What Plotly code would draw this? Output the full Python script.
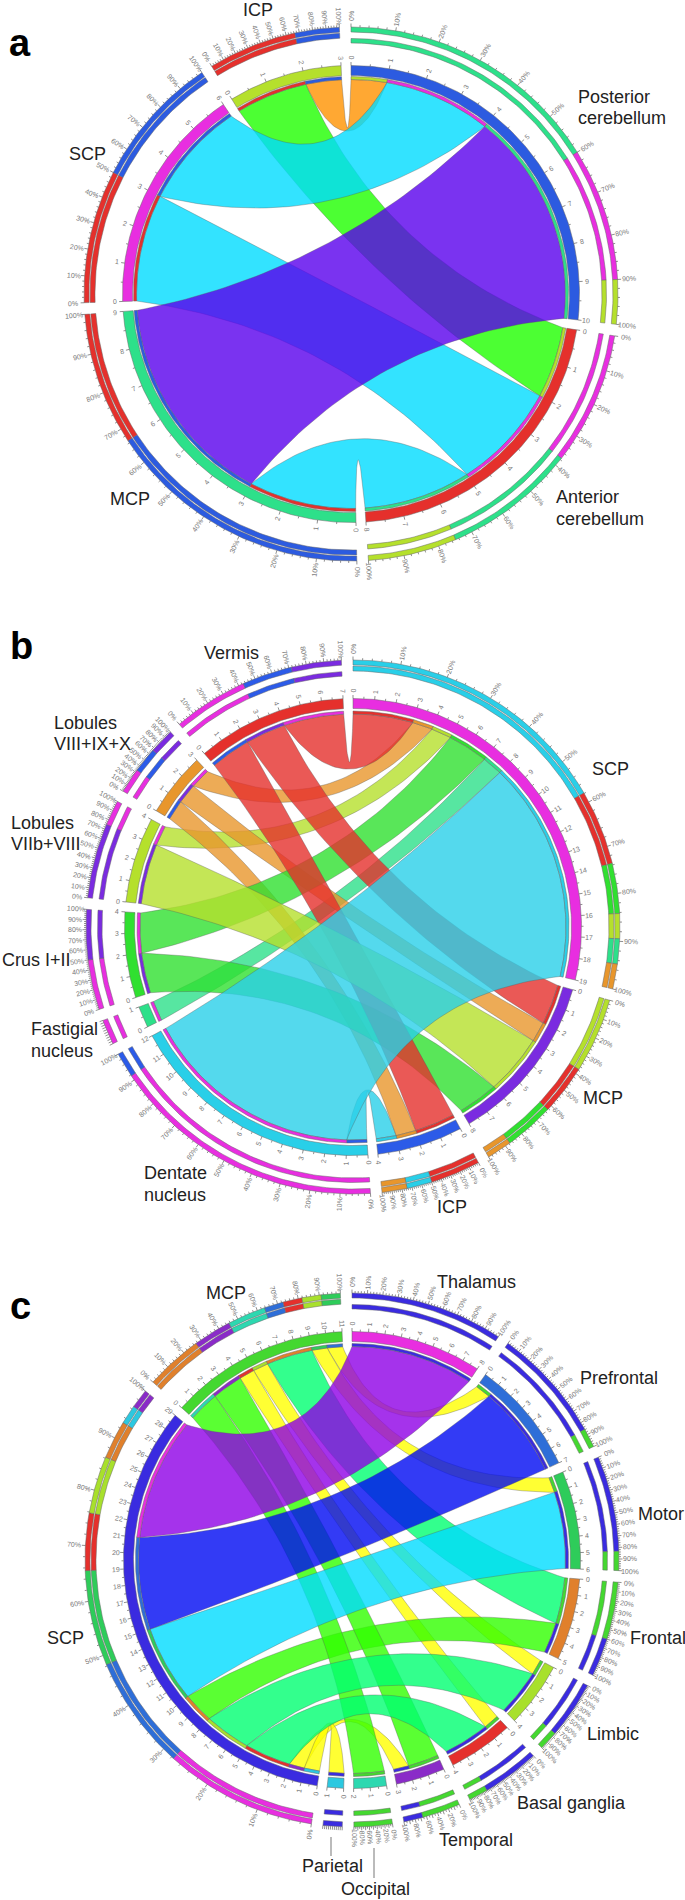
import numpy as np
import plotly.graph_objects as go

FONT = "Liberation Sans, Arial, sans-serif"

# ---------- panel a ----------
a_sizes = [10, 8, 9, 6, 3]
a_colors = ["#2c5be0", "#e5302c", "#2de08a", "#e82ee0", "#b5e02c"]
a_matrix = [
    [0, 0, 6, 3, 1],
    [0, 0, 3, 3, 2],
    [6, 3, 0, 0, 0],
    [3, 3, 0, 0, 0],
    [1, 2, 0, 0, 0],
]
a_order = [[4, 3, 2], [4, 3, 2], [1, 0], [1, 0], [1, 0]]
a_ring = [[2, 3, 4], [3, 2, 4], [0, 1], [1, 0], [1, 0]]
a_close = [False, False, True, True, True]
a_value_colors = {1: "#ff9200", 2: "#1fff00", 3: "#00dcff", 6: "#5900ec"}

# ---------- panel b ----------
b_sizes = [19, 8, 4, 12, 1, 4, 4, 3, 7]
b_colors = ["#e82ee0", "#7a2be0", "#2c5be8", "#29cfe8", "#2de08a",
            "#30e030", "#b5e02c", "#e8962c", "#e5302c"]
b_matrix = [
    [0, 0, 0, 11, 1, 2, 1, 1, 3],
    [0, 0, 0, 0, 0, 2, 3, 1, 2],
    [0, 0, 0, 1, 0, 0, 0, 1, 2],
    [11, 0, 1, 0, 0, 0, 0, 0, 0],
    [1, 0, 0, 0, 0, 0, 0, 0, 0],
    [2, 2, 0, 0, 0, 0, 0, 0, 0],
    [1, 3, 0, 0, 0, 0, 0, 0, 0],
    [1, 1, 1, 0, 0, 0, 0, 0, 0],
    [3, 2, 2, 0, 0, 0, 0, 0, 0],
]
b_order = [[8, 7, 6, 5, 4, 3], [8, 7, 6, 5], [8, 7, 3], [2, 0], [0],
           [1, 0], [1, 0], [2, 1, 0], [2, 1, 0]]
b_ring = [[3, 8, 5, 6, 4, 7], [6, 8, 5, 7], [8, 3, 7], [0, 2], [0],
          [0, 1], [1, 0], [0, 2, 1], [0, 2, 1]]
b_close = [True, True, True, False, False, False, False, False, False]

# ---------- panel c ----------
c_sizes = [8, 7, 6, 5, 4, 4, 3, 2, 1, 29, 11]
c_colors = ["#e82ee0", "#2e6ed8", "#2ecc5a", "#e0802c", "#a8e02c", "#e5302c",
            "#8a2bc8", "#2dd8b0", "#2cc8e0", "#3a2be0", "#44d830"]
c_scp = [8, 6, 5, 2, 3, 3, 1, 0, 1]
c_mcp = [0, 1, 1, 3, 1, 1, 2, 2, 0]
c_order = [[9], [10, 9], [10, 9], [10, 9], [10, 9], [10, 9], [10, 9], [10], [9],
           [8, 6, 5, 4, 3, 2, 1, 0], [7, 6, 5, 4, 3, 2, 1]]
c_ring = [[9], [9, 10], [9, 10], [10, 9], [9, 10], [9, 10], [10, 9], [10], [9],
          [0, 1, 2, 5, 4, 3, 8, 6], [3, 6, 7, 1, 5, 4, 2]]
c_close = [False] * 9 + [True, True]
c_value_colors = {1: "#ffff00", 2: "#31ff00", 3: "#00ff70", 5: "#00dcff",
                  6: "#000af3", 8: "#8e00e6"}

c_matrix = [[0] * 11 for _ in range(11)]
for k in range(9):
    c_matrix[k][9] = c_matrix[9][k] = c_scp[k]
    c_matrix[k][10] = c_matrix[10][k] = c_mcp[k]

# ---------- text ----------
panel_letters = ["a", "b", "c"]
letter_xy = [(20, 43), (21, 646), (20, 1306)]
a_labels = [("ICP", 258, 10, "center"), ("Posterior", 577, 97, "left"), ("cerebellum", 577, 118, "left"),
            ("SCP", 87, 154, "center"), ("MCP", 130, 499, "center"),
            ("Anterior", 555, 497, "left"), ("cerebellum", 555, 519, "left")]
b_labels = [("Vermis", 231, 653, "center"), ("SCP", 610, 769, "center"), ("MCP", 603, 1098, "center"),
            ("ICP", 452, 1207, "center"), ("Dentate", 143, 1173, "left"), ("nucleus", 143, 1195, "left"),
            ("Fastigial", 30, 1029, "left"), ("nucleus", 30, 1051, "left"), ("Crus I+II", 1, 960, "left"),
            ("Lobules", 10, 823, "left"), ("VIIb+VIII", 10, 844, "left"),
            ("Lobules", 53, 723, "left"), ("VIII+IX+X", 53, 744, "left")]
c_labels = [("Thalamus", 476, 1282, "center"), ("Prefrontal", 579, 1378, "left"), ("Motor", 637, 1514, "left"),
            ("Frontal", 629, 1638, "left"), ("Limbic", 586, 1734, "left"), ("Basal ganglia", 516, 1803, "left"),
            ("Temporal", 438, 1840, "left"), ("Parietal", 332, 1866, "center"), ("Occipital", 375, 1889, "center"),
            ("MCP", 226, 1293, "center"), ("SCP", 65, 1638, "center")]
leaders = [(331, 1837, 331, 1856), (374, 1848, 374, 1878)]

# ---------- geometry ----------
GAP = 2.5
R_OUT, R_OUT_W = 267.0, 5.0
R_SEG, R_SEG_W = 228.5, 10.0


def xy(cx, cy, r, deg):
    t = np.radians(deg)
    return cx + r * np.sin(t), cy - r * np.cos(t)


def arc(cx, cy, r, a0, a1):
    n = max(2, int(abs(a1 - a0) / 0.8) + 2)
    return xy(cx, cy, r, np.linspace(a0, a1, n))


def band(fig, cx, cy, r0, r1, a0, a1, color):
    xo, yo = arc(cx, cy, r1, a0, a1)
    xi, yi = arc(cx, cy, r0, a1, a0)
    fig.add_trace(go.Scatter(x=np.r_[xo, xi, xo[0]], y=np.r_[yo, yi, yo[0]], mode="lines", fill="toself",
                             fillcolor=color, line=dict(color="#666666", width=0.5), hoverinfo="skip"))


def curve(cx, cy, r, a, b):
    d = abs(a - b) % 360
    d = min(d, 360 - d)
    c = r * np.interp(d, [0, 35, 60, 102, 133, 180], [0.55, 0.53, 0.49, 0.26, 0.12, 0.0])
    ax, ay = xy(cx, cy, r, a)
    bx, by = xy(cx, cy, r, b)
    va = (b - a) % 360
    mid = a + (va / 2 if va <= 180 else (va - 360) / 2)
    mx, my = xy(cx, cy, c, mid)
    t = np.linspace(0, 1, 50)
    return ((1 - t) ** 2 * ax + 2 * t * (1 - t) * mx + t ** 2 * bx,
            (1 - t) ** 2 * ay + 2 * t * (1 - t) * my + t ** 2 * by)


def rgba(h, alpha):
    return f"rgba({int(h[1:3],16)},{int(h[3:5],16)},{int(h[5:7],16)},{alpha})"


def label(annots, x, y, text, size=18, anchor="center", color="#222222", angle=0, bold=False):
    annots.append(dict(x=x, y=y, xref="x", yref="y", text=f"<b>{text}</b>" if bold else text, showarrow=False,
                       xanchor=anchor, yanchor="middle", textangle=angle, borderpad=0,
                       font=dict(family=FONT, size=size, color=color)))


def radial(annots, cx, cy, r, deg, text):
    x, y = xy(cx, cy, r, deg)
    ang = deg - 90 if deg < 180 else deg + 90 - 360
    label(annots, float(x), float(y), text, size=7, color="#777777", angle=ang)


def panel(fig, annots, cx, cy, sizes, colors, matrix, order, ring, close, link_color, r_thin, r_thin_w):
    n = len(sizes)
    unit = (360 - n * GAP) / sum(sizes)
    starts = []
    ang = 0.0
    for s in sizes:
        starts.append(ang)
        ang += s * unit + GAP
    pos = {}
    for i in range(n):
        u = 0
        for j in order[i]:
            pos[(i, j)] = (u, u + matrix[i][j])
            u += matrix[i][j]
    pairs = sorted([(i, j) for i in range(n) for j in range(i + 1, n) if matrix[i][j] > 0],
                   key=lambda p: matrix[p[0]][p[1]])
    r_c = r_thin
    for i, j in pairs:
        a0, a1 = [starts[i] + unit * v for v in pos[(i, j)]]
        b0, b1 = [starts[j] + unit * v for v in pos[(j, i)]]
        x1, y1 = arc(cx, cy, r_c, a0, a1)
        x2, y2 = curve(cx, cy, r_c, a1, b0)
        x3, y3 = arc(cx, cy, r_c, b0, b1)
        x4, y4 = curve(cx, cy, r_c, b1, a0)
        fig.add_trace(go.Scatter(x=np.r_[x1, x2, x3, x4], y=np.r_[y1, y2, y3, y4], mode="lines", fill="toself",
                                 fillcolor=rgba(link_color(i, j), 0.8),
                                 line=dict(color="rgba(90,90,90,0.7)", width=0.5), hoverinfo="skip"))
    tx, ty = [], []
    for i in range(n):
        s0 = starts[i]
        s1 = s0 + sizes[i] * unit
        span = s1 - s0
        band(fig, cx, cy, R_SEG - R_SEG_W, R_SEG, s0, s1, colors[i])
        for j in order[i]:
            p0, p1 = pos[(i, j)]
            band(fig, cx, cy, r_thin, r_thin + r_thin_w, s0 + unit * p0, s0 + unit * p1, colors[j])
        u = 0
        r2 = (R_OUT - 11.0, R_OUT - 6.0) if close[i] else (R_OUT - 16.0, R_OUT - 11.5)
        for j in ring[i]:
            v = matrix[i][j]
            a0, a1 = s0 + unit * u, s0 + unit * (u + v)
            band(fig, cx, cy, R_OUT - R_OUT_W, R_OUT, a0, a1, colors[j])
            band(fig, cx, cy, r2[0], r2[1], a0, a1, colors[j])
            u += v
        for k in range(2 * sizes[i] + 1):
            d = s0 + unit * k / 2
            L = 3.5 if k % 2 == 0 else 2.0
            x, y = xy(cx, cy, np.array([R_SEG, R_SEG + L]), d)
            tx += [x[0], x[1], None]
            ty += [y[0], y[1], None]
            if k % 2 == 0:
                radial(annots, cx, cy, R_SEG + 8, d, str(k // 2))
        tick_step = 10 if span < 6 else (5 if span < 14 else 2)
        label_step = None if span < 6 else (20 if span < 14 else 10)
        for pct in range(0, 101, tick_step):
            d = s0 + span * pct / 100
            L = 3.5 if pct % 10 == 0 else 2.0
            x, y = xy(cx, cy, np.array([R_OUT, R_OUT + L]), d)
            tx += [x[0], x[1], None]
            ty += [y[0], y[1], None]
            if label_step and pct % label_step == 0:
                radial(annots, cx, cy, R_OUT + 11, d, f"{pct}%")
    fig.add_trace(go.Scatter(x=tx, y=ty, mode="lines", line=dict(color="#444444", width=0.6), hoverinfo="skip"))


fig = go.Figure()
annots = []
panel(fig, annots, 351, 294, a_sizes, a_colors, a_matrix, a_order, a_ring, a_close,
      lambda i, j: a_value_colors[a_matrix[i][j]], 214.5, 3.0)
b_source = [3, 4, 5, 6, 7, 8]
panel(fig, annots, 353, 927, b_sizes, b_colors, b_matrix, b_order, b_ring, b_close,
      lambda i, j: b_colors[j if j in b_source else i], 213.0, 3.0)
panel(fig, annots, 352, 1560, c_sizes, c_colors, c_matrix, c_order, c_ring, c_close,
      lambda i, j: c_value_colors[c_matrix[i][j]], 213.5, 3.0)

for (t, (x, y)) in zip(panel_letters, letter_xy):
    label(annots, x, y, t, size=38, bold=True, color="#000000")
for t, x, y, anc in a_labels + b_labels + c_labels:
    label(annots, x, y, t, anchor=anc)
shapes = [dict(type="line", xref="x", yref="y", x0=a, y0=b, x1=c, y1=d, line=dict(color="#bbbbbb", width=2))
          for a, b, c, d in leaders]

fig.update_layout(width=685, height=1900, margin=dict(l=0, r=0, t=0, b=0), showlegend=False,
                  paper_bgcolor="white", plot_bgcolor="white", annotations=annots, shapes=shapes,
                  xaxis=dict(range=[0, 685], visible=False, fixedrange=True),
                  yaxis=dict(range=[1900, 0], visible=False, fixedrange=True))
fig.write_html("out.html", post_script="document.body.style.margin='0';", config={"displayModeBar": False})
